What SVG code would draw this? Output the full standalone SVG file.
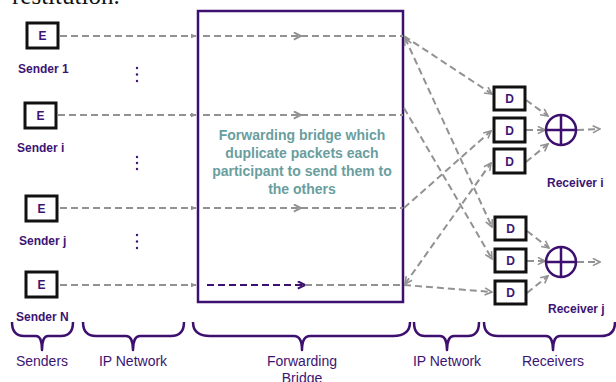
<svg xmlns="http://www.w3.org/2000/svg" width="616" height="382" viewBox="0 0 616 382">
<style>
.box{fill:#fff;stroke:#111;stroke-width:3}
.bl{font-family:"Liberation Sans",Arial,sans-serif;font-weight:bold;font-size:12px;fill:#3d1474;text-anchor:middle}
.lab{font-family:"Liberation Sans",Arial,sans-serif;font-weight:bold;font-size:12px;fill:#3d1474}
.big{font-family:"Liberation Sans",Arial,sans-serif;font-size:14px;fill:#3d1474;text-anchor:middle}
.dash{fill:none;stroke:#929292;stroke-width:2;stroke-dasharray:7 4}
.pur{fill:none;stroke:#3d1070;stroke-width:2.5}
.brace{fill:none;stroke:#3d1070;stroke-width:2.5;stroke-linejoin:round}
.note{font-family:"Liberation Sans",Arial,sans-serif;font-weight:bold;font-size:14px;fill:#6a9e9e;text-anchor:middle}
</style>
<defs>
<marker id="sm" viewBox="0 0 10 10" refX="9" refY="5" markerWidth="6" markerHeight="6" markerUnits="userSpaceOnUse" orient="auto"><path d="M0,1 L10,5 L0,9 z" fill="#929292"/></marker>
<marker id="mid" viewBox="0 0 10 10" refX="9" refY="5" markerWidth="9" markerHeight="9" markerUnits="userSpaceOnUse" orient="auto"><path d="M1,1 L9,5 L1,9" fill="none" stroke="#929292" stroke-width="2.2"/></marker>
<marker id="midp" viewBox="0 0 10 10" refX="9" refY="5" markerWidth="9" markerHeight="9" markerUnits="userSpaceOnUse" orient="auto"><path d="M1,1 L9,5 L1,9" fill="none" stroke="#3d1070" stroke-width="2.4"/></marker>
<marker id="op" viewBox="0 0 10 10" refX="9" refY="5" markerWidth="9" markerHeight="9" markerUnits="userSpaceOnUse" orient="auto-start-reverse"><path d="M1,1 L9,5 L1,9" fill="none" stroke="#929292" stroke-width="1.8"/></marker>
</defs>
<text x="12" y="4" font-family="Liberation Serif,serif" font-size="25" fill="#111">restitution.</text>

<g id="bridge">
<rect x="198" y="11" width="205" height="291" class="pur"/>
<text class="note" x="302" y="140">Forwarding bridge which</text>
<text class="note" x="302" y="158">duplicate packets each</text>
<text class="note" x="302" y="176">participant to send them to</text>
<text class="note" x="302" y="194">the others</text>
</g>

<g id="connectors">
<path class="dash" d="M60,36 H196" marker-end="url(#sm)"/>
<path class="dash" d="M58,115 H196" marker-end="url(#sm)"/>
<path class="dash" d="M60,208 H196" marker-end="url(#sm)"/>
<path class="dash" d="M60,285 H196" marker-end="url(#sm)"/>
<path class="dash" d="M203,36 H301" marker-end="url(#mid)"/>
<path class="dash" d="M301,36 H403"/>
<path class="dash" d="M203,115 H301" marker-end="url(#mid)"/>
<path class="dash" d="M301,115 H403"/>
<path class="dash" d="M203,208 H301" marker-end="url(#mid)"/>
<path class="dash" d="M301,208 H403"/>
<path d="M207,285 H305" fill="none" stroke="#3d1070" stroke-width="2" stroke-dasharray="7 4" marker-end="url(#midp)"/>
<path class="dash" d="M305,285 H403"/>
<path class="dash" d="M404,36 L492,94" marker-end="url(#op)"/>
<path class="dash" d="M405,38 L492,227" marker-start="url(#op)" marker-end="url(#op)"/>
<path class="dash" d="M404,108 L492,259" marker-end="url(#op)"/>
<path class="dash" d="M404,208 L491,131" marker-end="url(#op)"/>
<path class="dash" d="M405,284 L491,163" marker-start="url(#op)" marker-end="url(#op)"/>
<path class="dash" d="M404,285 L492,292" marker-end="url(#op)"/>
<path class="dash" d="M526,100 L548,116" marker-end="url(#op)"/>
<path class="dash" d="M526,130 L545,130" marker-end="url(#op)"/>
<path class="dash" d="M526,162 L548,144" marker-end="url(#op)"/>
<path class="dash" d="M577,130 L600,129" marker-end="url(#op)"/>
<path class="dash" d="M527,231 L549,248" marker-end="url(#op)"/>
<path class="dash" d="M527,261 L545,261" marker-end="url(#op)"/>
<path class="dash" d="M527,293 L548,276" marker-end="url(#op)"/>
<path class="dash" d="M577,262 L600,262" marker-end="url(#op)"/>
</g>

<g id="sender1"><rect class="box" x="27" y="23" width="31" height="25"/><text class="bl" x="42.5" y="40">E</text><text class="lab" x="18" y="73">Sender 1</text></g>
<g id="senderI"><rect class="box" x="25" y="103" width="31" height="25"/><text class="bl" x="40.5" y="120">E</text><text class="lab" x="17" y="152">Sender i</text></g>
<g id="senderJ"><rect class="box" x="26" y="196" width="31" height="25"/><text class="bl" x="41.5" y="213">E</text><text class="lab" x="19" y="245">Sender j</text></g>
<g id="senderN"><rect class="box" x="26" y="272" width="31" height="25"/><text class="bl" x="41.5" y="289">E</text><text class="lab" x="16" y="321">Sender N</text></g>

<g id="dots" fill="#3d1474">
<circle cx="137" cy="68" r="1.2"/><circle cx="137" cy="74.5" r="1.2"/><circle cx="137" cy="81" r="1.2"/>
<circle cx="137" cy="157" r="1.2"/><circle cx="137" cy="163" r="1.2"/><circle cx="137" cy="169" r="1.2"/>
<circle cx="137" cy="235" r="1.2"/><circle cx="137" cy="241.5" r="1.2"/><circle cx="137" cy="248" r="1.2"/>
</g>

<g id="receiverI">
<rect class="box" x="494" y="87" width="31" height="23"/><text class="bl" x="509.5" y="103">D</text>
<rect class="box" x="494" y="118" width="31" height="24"/><text class="bl" x="509.5" y="134.5">D</text>
<rect class="box" x="494" y="149" width="31" height="24"/><text class="bl" x="509.5" y="165.5">D</text>
<circle cx="561" cy="130" r="15" class="pur"/><path class="pur" d="M546,130 H576 M561,115 V145"/>
<text class="lab" x="547" y="187">Receiver i</text>
</g>
<g id="receiverJ">
<rect class="box" x="495" y="217" width="31" height="23"/><text class="bl" x="510.5" y="233">D</text>
<rect class="box" x="495" y="249" width="31" height="23"/><text class="bl" x="510.5" y="265">D</text>
<rect class="box" x="495" y="281" width="31" height="23"/><text class="bl" x="510.5" y="297">D</text>
<circle cx="561" cy="262" r="15" class="pur"/><path class="pur" d="M546,262 H576 M561,247 V277"/>
<text class="lab" x="548" y="313">Receiver j</text>
</g>

<g id="braces">
<path class="brace" d="M12,322 Q12,336 24,336 L36,336 Q42,336 42,350 Q42,336 48,336 L61,336 Q73,336 73,322"/>
<text class="big" x="42" y="366">Senders</text>
<path class="brace" d="M83,322 Q83,336 96,336 L126,336 Q133,336 133,350 Q133,336 140,336 L171,336 Q184,336 184,322"/>
<text class="big" x="133" y="366">IP Network</text>
<path class="brace" d="M193,322 Q193,336 210,336 L294,336 Q302,336 302,350 Q302,336 310,336 L393,336 Q410,336 410,322"/>
<text class="big" x="302" y="366">Forwarding</text>
<text class="big" x="302" y="383">Bridge</text>
<path class="brace" d="M414,322 Q414,336 425,336 L440,336 Q447,336 447,350 Q447,336 454,336 L468,336 Q479,336 479,322"/>
<text class="big" x="447" y="366">IP Network</text>
<path class="brace" d="M484,322 Q484,336 498,336 L546,336 Q553,336 553,350 Q553,336 560,336 L601,336 Q615,336 615,322"/>
<text class="big" x="553" y="366">Receivers</text>
</g>
</svg>
